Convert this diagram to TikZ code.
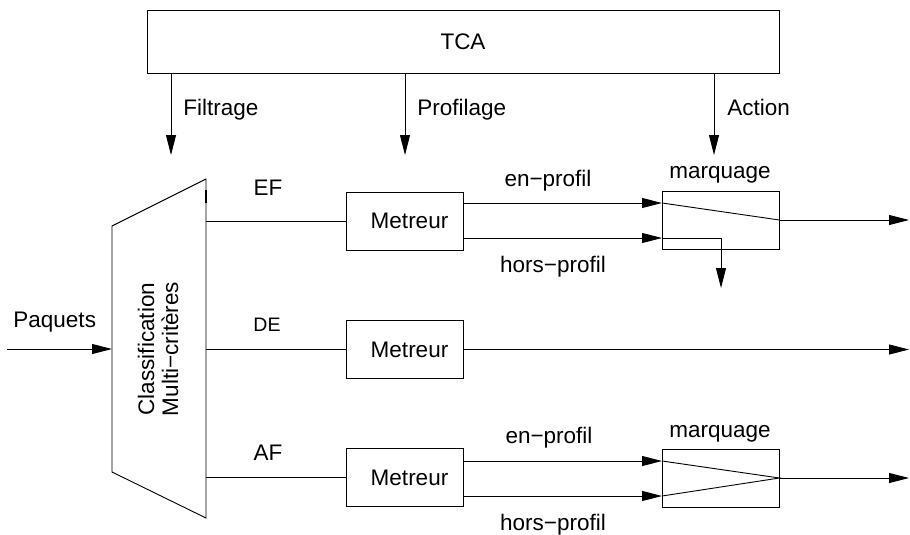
\documentclass[tikz,border=0pt]{standalone}
\usepackage{fontspec}
\setmainfont{Liberation Sans}
\usetikzlibrary{arrows.meta}
\begin{document}
\begin{tikzpicture}[x=1pt,y=-1pt, line width=0.9pt,
  arr/.style={-{Triangle[length=20pt,width=10pt]}},
  lbl/.style={inner sep=0pt, font=\fontsize{22.5}{27}\selectfont},
  smalllbl/.style={inner sep=0pt, font=\fontsize{19.5}{23}\selectfont},
  boxn/.style={draw, minimum width=117pt, minimum height=58pt, inner sep=0pt},
]
\useasboundingbox (0,0) rectangle (910,535);

% TCA
\node[draw, minimum width=632pt, minimum height=63pt, lbl] (tca) at (463,41.5) {TCA};
\coordinate (ft) at (171,155);
\coordinate (pt) at (405,155);
\coordinate (at) at (714,155);
\draw[arr] (tca.south -| ft) -- (ft);
\draw[arr] (tca.south -| pt) -- (pt);
\draw[arr] (tca.south -| at) -- (at);
\node[lbl, anchor=base west] (lfil) at (183,115) {Filtrage};
\node[lbl, anchor=base west] (lpro) at (417,115) {Profilage};
\node[lbl, anchor=base west] (lact) at (727,115) {Action};

% Classifier
\coordinate (c1) at (112,226);
\coordinate (c2) at (206,179);
\coordinate (c3) at (206,518);
\coordinate (c4) at (112,472);
\draw (c1) -- (c2) -- (c3) -- (c4) -- cycle;
\coordinate (k1) at (206,190);
\coordinate (k2) at (206,203);
\draw[line width=2.4pt] (k1) -- (k2);
\node[lbl, rotate=90, align=center, font=\fontsize{22.5}{24}\selectfont] (cls) at (158,349) {Classification\\Multi−critères};

% Input
\coordinate (pin) at (7,349);
\coordinate (pend) at (112,349);
\draw[arr] (pin) -- (pend);
\node[lbl, anchor=base west] (lpaq) at (13,327) {Paquets};

% Metreurs
\node[boxn, lbl] (me1) at (404.5,221) {\hspace*{10pt}Metreur};
\node[boxn, lbl] (me2) at (404.5,349.5) {\hspace*{10pt}Metreur};
\node[boxn, lbl] (me3) at (404.5,477.5) {\hspace*{10pt}Metreur};
\coordinate (o1) at (206,221);
\coordinate (o2) at (206,349.5);
\coordinate (o3) at (206,477.5);
\draw (o1) -- (me1.west);
\draw (o2) -- (me2.west);
\draw (o3) -- (me3.west);
\node[lbl] (lef) at (268,188) {EF};
\node[smalllbl] (lde) at (267,325) {DE};
\node[lbl] (laf) at (268,453) {AF};

% EF marquage
\node[boxn] (mq1) at (720.5,220) {};
\node[lbl, anchor=base] (lmq1) at (720,178) {marquage};
\coordinate (m1a) at (662,203);
\coordinate (m1b) at (662,238);
\coordinate (m1d) at (721,288);
\coordinate (r1) at (909,220);
\draw[arr] (me1.east |- m1a) -- (m1a);
\draw[arr] (me1.east |- m1b) -- (m1b);
\draw (m1a) -- (mq1.east);
\draw[arr] (mq1.east) -- (r1);
\draw[arr] (m1b) -| (m1d);
\node[lbl, anchor=base] (len1) at (548,186) {en−profil};
\node[lbl, anchor=base] (lho1) at (553,272) {hors−profil};

% DE
\coordinate (r2) at (909,349.5);
\draw[arr] (me2.east) -- (r2);

% AF marquage
\node[boxn] (mq3) at (720.5,478) {};
\node[lbl, anchor=base] (lmq3) at (720,437) {marquage};
\coordinate (m3a) at (662,461);
\coordinate (m3b) at (662,496);
\coordinate (r3) at (909,478);
\draw[arr] (me3.east |- m3a) -- (m3a);
\draw[arr] (me3.east |- m3b) -- (m3b);
\draw (m3a) -- (mq3.east) -- (m3b);
\draw[arr] (mq3.east) -- (r3);
\node[lbl, anchor=base] (len3) at (549,443) {en−profil};
\node[lbl, anchor=base] (lho3) at (553,530) {hors−profil};
\end{tikzpicture}
\end{document}
